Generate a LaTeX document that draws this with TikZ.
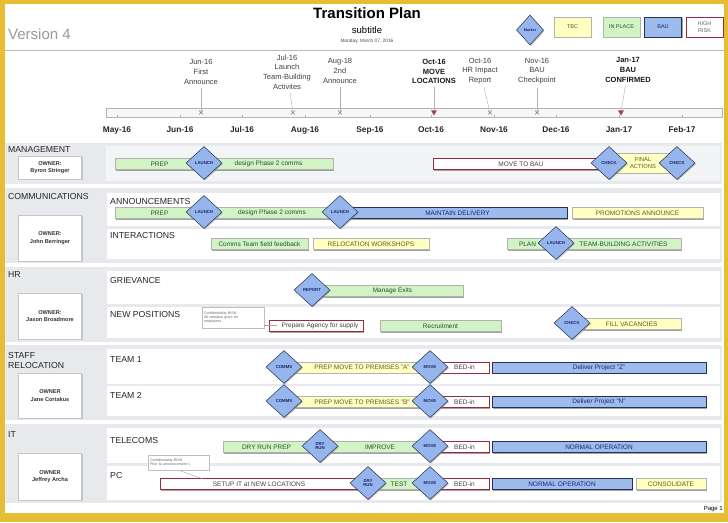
\documentclass[tikz,border=0pt]{standalone}
\usepackage{fontspec}
\setmainfont{Liberation Sans}
\usetikzlibrary{shapes.geometric,shapes.misc,shadows}

\definecolor{frameyellow}{RGB}{229,190,52}
\definecolor{lanegray}{RGB}{231,233,236}
\definecolor{rowgray}{RGB}{243,244,246}
\definecolor{tbcfill}{RGB}{255,255,194}
\definecolor{tbctext}{RGB}{92,92,40}
\definecolor{placefill}{RGB}{210,243,196}
\definecolor{placetext}{RGB}{36,84,48}
\definecolor{baufill}{RGB}{158,187,238}
\definecolor{baudraw}{RGB}{38,50,84}
\definecolor{bautext}{RGB}{26,38,104}
\definecolor{riskdraw}{RGB}{152,42,60}
\definecolor{msfill}{RGB}{150,181,236}
\definecolor{duegray}{RGB}{120,120,120}
\definecolor{duered}{RGB}{150,70,70}

% a bar of the plan: name, style, start, end, row, label
\newcommand{\planbar}[6]{%
    \node[#2, minimum width={(#4-#3)*1pt}] (#1) at ({(#3+#4)/2},#5) {#6};}

\begin{document}
\begin{tikzpicture}[x=1pt, y=-1pt,
    taskbar/.style={draw, minimum height=11pt, inner sep=0pt,
        font=\fontsize{6.5}{7.5}\selectfont,
        drop shadow={shadow xshift=1pt, shadow yshift=-1pt, opacity=0.6, fill=black!60}},
    tbcbar/.style={taskbar, fill=tbcfill, draw=gray!60, text=tbctext},
    placebar/.style={taskbar, fill=placefill, draw=gray!60, text=placetext},
    baubar/.style={taskbar, fill=baufill, draw=baudraw, line width=0.6pt, text=bautext},
    riskbar/.style={taskbar, fill=white, draw=riskdraw, line width=0.7pt, text=black!75},
    keybox/.style={minimum width=37pt, minimum height=20pt, align=center,
        font=\fontsize{5.5}{6.5}\selectfont},
    gate/.style={diamond, draw=baudraw, fill=msfill, text=bautext, line width=0.5pt,
        minimum width=36pt, minimum height=33pt, inner sep=0pt, align=center,
        font=\fontsize{4.3}{4.8}\selectfont\bfseries,
        drop shadow={shadow xshift=1pt, shadow yshift=-1pt, opacity=0.5}},
    owner/.style={draw=gray!45, fill=white, minimum width=63pt, inner sep=0pt, align=center,
        font=\fontsize{5.6}{7.5}\selectfont\bfseries, text=black!80,
        drop shadow={shadow xshift=1.2pt, shadow yshift=-1.2pt, opacity=0.35}},
    lanehead/.style={anchor=west, inner sep=0pt, align=left,
        font=\fontsize{8.7}{10.8}\selectfont, text=black!85},
    rowhead/.style={lanehead},
    riskhint/.style={draw=gray!50, fill=white, inner sep=2pt, text width=58pt, align=left,
        text=black!60, font=\fontsize{3.6}{4.4}\selectfont},
    duelabel/.style={align=center, font=\fontsize{7.5}{9.6}\selectfont, text=black!75},
    due/.style={cross out, draw=duegray, minimum size=3.5pt, inner sep=0pt},
    duemain/.style={regular polygon, regular polygon sides=3, shape border rotate=180,
        fill=duered, minimum size=7pt, inner sep=0pt},
    month/.style={font=\fontsize{8.3}{10}\selectfont\bfseries, text=black!85}]

    % frame
    \fill[frameyellow] (0,0) rectangle (728,522);
    \fill[white] (5,4) rectangle (724,513);
    \useasboundingbox (0,0) rectangle (728,522);

    % title
    \node[font=\fontsize{15}{18}\selectfont\bfseries] (title) at (367,13) {Transition Plan};
    \node[font=\fontsize{9.5}{11}\selectfont] (subtitle) at (367,30) {subtitle};
    \node[font=\fontsize{4.8}{6}\selectfont, text=black!70] (date) at (367,41) {Monday, March 07, 2016};
    \node[anchor=west, inner sep=0pt, font=\fontsize{15}{18}\selectfont, text=gray!80] (version) at (8,34) {Version 4};
    \draw[gray!55] (5,50) -- (724,50);

    % legend
    \node[gate, font=\fontsize{3.8}{4.5}\selectfont\bfseries, minimum width=27pt, minimum height=30pt] (keyms) at (530,30) {Marker};
    \node[tbcbar, keybox] (keytbc) at (572.5,27) {TBC};
    \node[placebar, keybox] (keyplace) at (621.5,27) {IN PLACE};
    \node[baubar, keybox] (keybau) at (663,27) {BAU};
    \node[riskbar, keybox, text=black!60] (keyrisk) at (704.5,27) {HIGH\\RISK};

    % timeline
    \draw[gray!60, fill=gray!6] (106,108) rectangle (722,117);
    \foreach \x in {117,180,242,305,370,431,494,556,619,682}
        \draw[gray!60] (\x,117) -- (\x,114.5);
    \foreach \m/\x in {May-16/117,Jun-16/180,Jul-16/242,Aug-16/305,Sep-16/370,
                       Oct-16/431,Nov-16/494,Dec-16/556,Jan-17/619,Feb-17/682}
        \node[month] (m\x) at (\x,130) {\m};

    \node[duelabel] (dJun) at (201,72) {Jun-16\\First\\Announce};
    \node[duelabel] (dJul) at (287,72) {Jul-16\\Launch\\Team-Building\\Activites};
    \node[duelabel] (dAug) at (340,71) {Aug-18\\2nd\\Announce};
    \node[duelabel, font=\fontsize{7.5}{9.6}\selectfont\bfseries, text=black!90] (dMove) at (434,71.5) {Oct-16\\MOVE\\LOCATIONS};
    \node[duelabel] (dHr) at (480,71) {Oct-16\\HR Impact\\Report};
    \node[duelabel] (dNov) at (537,71) {Nov-16\\BAU\\Checkpoint};
    \node[duelabel, font=\fontsize{7.5}{9.6}\selectfont\bfseries, text=black!90] (dJan) at (628,70) {Jan-17\\BAU\\CONFIRMED};

    \node[due] (xJun) at (201,112.5) {};
    \node[due] (xJul) at (293,112.5) {};
    \node[due] (xAug) at (340,112.5) {};
    \node[duemain] (xMove) at (434,112) {};
    \node[due] (xHr) at (490,112.5) {};
    \node[due] (xNov) at (537,112.5) {};
    \node[duemain] (xJan) at (621,112) {};

    \draw[gray!60] (dJun) -- (xJun);
    \draw[gray!60] (dJul) -- (xJul);
    \draw[gray!60] (dAug) -- (xAug);
    \draw[gray!60] (dMove) -- (xMove);
    \draw[gray!60] (dHr) -- (xHr);
    \draw[gray!60] (dNov) -- (xNov);
    \draw[gray!60] (dJan) -- (xJan);

    % management
    \fill[lanegray] (5,143) rectangle (722,184);
    \fill[rowgray] (106,146) rectangle (720,181);
    \node[lanehead] (hMg) at (8,149.5) {MANAGEMENT};
    \node[owner, minimum height=23pt] (oMg) at (50,167.5) {OWNER:\\Byron Stringer};
    \planbar{mgPrep}{placebar}{115}{204}{164}{PREP}
    \planbar{mgDesign}{placebar}{204}{333}{164}{design Phase 2 comms}
    \planbar{mgMove}{riskbar}{433}{609}{164}{MOVE TO BAU}
    \planbar{mgFinal}{tbcbar, minimum height=20pt, align=center, font=\fontsize{5.8}{6.8}\selectfont}{609}{677}{163}{FINAL\\ACTIONS}
    \node[gate] (mgLaunch) at (204,163) {LAUNCH};
    \node[gate] (mgCheckA) at (609,163) {CHECK};
    \node[gate] (mgCheckB) at (677,163) {CHECK};

    % communications
    \fill[lanegray] (5,188) rectangle (722,263);
    \fill[white] (107,193) rectangle (720,259);
    \fill[lanegray] (107,226) rectangle (720,228.5);
    \node[lanehead] (hCo) at (8,196.5) {COMMUNICATIONS};
    \node[owner, minimum height=46pt] (oCo) at (50,238) {OWNER:\\John Berringer};
    \node[rowhead] (rAnn) at (110,201.5) {ANNOUNCEMENTS};
    \node[rowhead] (rInt) at (110,236) {INTERACTIONS};
    \planbar{anPrep}{placebar}{115}{204}{213}{PREP}
    \planbar{anDesign}{placebar}{204}{340}{213}{design Phase 2 comms}
    \planbar{anMaintain}{baubar}{348}{567}{213}{MAINTAIN DELIVERY}
    \planbar{anPromo}{tbcbar}{572}{703}{213}{PROMOTIONS ANNOUNCE}
    \node[gate] (anLaunchA) at (204,212) {LAUNCH};
    \node[gate] (anLaunchB) at (340,212) {LAUNCH};
    \planbar{inFeedback}{placebar}{211}{308}{244}{Comms Team field feedback}
    \planbar{inWorkshop}{tbcbar}{313}{429}{244}{RELOCATION WORKSHOPS}
    \planbar{inPlan}{placebar}{507}{548}{244}{PLAN}
    \planbar{inTeam}{placebar}{566}{681}{244}{TEAM-BUILDING ACTIVITIES}
    \node[gate] (inLaunch) at (556,243) {LAUNCH};

    % hr
    \fill[lanegray] (5,267) rectangle (722,342);
    \fill[white] (107,271) rectangle (720,338);
    \fill[lanegray] (107,304) rectangle (720,307);
    \node[lanehead] (hHr) at (8,274.5) {HR};
    \node[owner, minimum height=46pt] (oHr) at (50,316) {OWNER:\\Jason Broadmore};
    \node[rowhead] (rGri) at (110,280.5) {GRIEVANCE};
    \node[rowhead] (rPos) at (110,315) {NEW POSITIONS};
    \planbar{grExits}{placebar}{322}{463}{291}{Manage Exits}
    \node[gate] (grReport) at (312,290) {REPORT};
    \node[riskhint, minimum height=21pt] (hint1) at (233,317.5) {Confidentiality RISK:\\All sensitive grant for\\employees};
    \planbar{npAgency}{riskbar}{269}{363}{326}{\hspace{8pt}Prepare Agency for supply}
    \coordinate (tip1) at (277,325.5);
    \draw[gray!70] (hint1.east |- tip1) -- (tip1);
    \planbar{npRecruit}{placebar}{380}{501}{326}{Recruitment}
    \planbar{npFill}{tbcbar}{582}{681}{324}{FILL VACANCIES}
    \node[gate] (npCheck) at (572,323) {CHECK};

    % staff relocation
    \fill[lanegray] (5,345) rectangle (722,420);
    \fill[white] (107,349) rectangle (720,416);
    \fill[lanegray] (107,383.5) rectangle (720,386);
    \node[lanehead] (hSt) at (8,360.5) {STAFF\\RELOCATION};
    \node[owner, minimum height=45pt] (oSt) at (50,395.5) {OWNER\\Jane Cortakus};
    \node[rowhead] (rT1) at (110,360) {TEAM 1};
    \node[rowhead] (rT2) at (110,395) {TEAM 2};
    \planbar{t1Prep}{tbcbar}{294}{430}{367.5}{PREP MOVE TO PREMISES "A"}
    \planbar{t1Bed}{riskbar}{440}{489}{367.5}{BED-in}
    \planbar{t1Deliver}{baubar}{492}{706}{367.5}{Deliver Project "Z"}
    \node[gate] (t1Comms) at (284,367) {COMMS};
    \node[gate] (t1Move) at (430,367) {MOVE};
    \planbar{t2Prep}{tbcbar}{294}{430}{402}{PREP MOVE TO PREMISES "B"}
    \planbar{t2Bed}{riskbar}{440}{489}{402}{BED-in}
    \planbar{t2Deliver}{baubar}{492}{706}{402}{Deliver Project "N"}
    \node[gate] (t2Comms) at (284,401) {COMMS};
    \node[gate] (t2Move) at (430,401) {MOVE};

    % it
    \fill[lanegray] (5,424) rectangle (722,503);
    \fill[white] (107,428) rectangle (720,500);
    \fill[lanegray] (107,463) rectangle (720,466);
    \node[lanehead] (hIt) at (8,435) {IT};
    \node[owner, minimum height=47pt] (oIt) at (50,476.5) {OWNER\\Jeffrey Archa};
    \node[rowhead] (rTel) at (110,440) {TELECOMS};
    \node[rowhead] (rPc) at (110,475) {PC};
    \planbar{teRunPrep}{placebar}{223}{310}{447}{DRY RUN PREP}
    \planbar{teImprove}{placebar}{330}{430}{447}{IMPROVE}
    \planbar{teBed}{riskbar}{440}{489}{447}{BED-in}
    \planbar{teNormal}{baubar}{492}{706}{447}{NORMAL OPERATION}
    \node[gate] (teRun) at (320,446) {DRY\\RUN};
    \node[gate] (teMove) at (430,446) {MOVE};
    \planbar{pcSetup}{riskbar}{160}{358}{484}{SETUP IT at NEW LOCATIONS}
    \planbar{pcTest}{placebar}{378}{420}{484}{TEST}
    \planbar{pcBed}{riskbar}{440}{489}{484}{BED-in}
    \planbar{pcNormal}{baubar}{492}{632}{484}{NORMAL OPERATION}
    \planbar{pcConsol}{tbcbar}{636}{706}{484}{CONSOLIDATE}
    \node[gate] (pcRun) at (368,483) {DRY\\RUN};
    \node[gate] (pcMove) at (430,483) {MOVE};
    \node[riskhint, text width=57pt, minimum height=15pt] (hint2) at (178.5,462.5) {Confidentiality RISK\\Prior to announcement 1};
    \coordinate (tip2) at (203,479);
    \draw[gray!70] (hint2.south) -- (tip2);

    \node[anchor=east, inner sep=0pt, font=\fontsize{6}{7}\selectfont] (page) at (723,509) {Page 1};
\end{tikzpicture}
\end{document}
